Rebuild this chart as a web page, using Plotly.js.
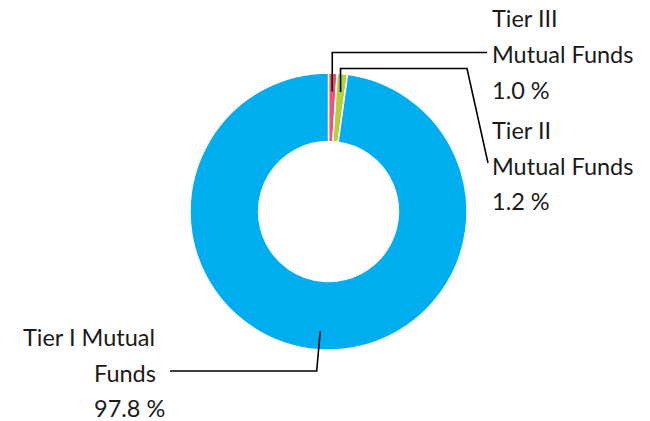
<!DOCTYPE html>
<html>
<head>
<meta charset="utf-8">
<script src="https://cdn.plot.ly/plotly-3.0.1.min.js"></script>
<style>html,body{margin:0;padding:0;background:#fff;}#chart{width:650px;height:421px;}</style>
</head>
<body>
<div id="chart"></div>
<script>
// Data (clockwise from 12 o'clock)
var labels = ['Tier III Mutual Funds', 'Tier II Mutual Funds', 'Tier I Mutual Funds'];
var values = [1.0, 1.2, 97.8];
var colors = ['#F0527F', '#B4D135', '#00AEEF'];
var valueLabels = ['1.0 %', '1.2 %', '97.8 %'];

var W = 650, H = 421;
var cx = 328.5, cy = 211.5, R = 138.5;
function px(x) { return x / W; }
function py(y) { return 1 - y / H; }

var total = values.reduce(function (a, b) { return a + b; }, 0);
var mids = [], cum = 0;
values.forEach(function (v) { mids.push((cum + v / 2) / total * 2 * Math.PI); cum += v; });
function pt(i, r) { return [cx + r * Math.sin(mids[i]), cy - r * Math.cos(mids[i])]; }

var rStart = 0.867 * R;
var shapes = [];
function path(points) {
  var d = points.map(function (p, k) { return (k ? 'L' : 'M') + px(p[0]) + ',' + py(p[1]); }).join(' ');
  shapes.push({type: 'path', xref: 'paper', yref: 'paper', path: d, line: {color: '#000', width: 1.6}});
}
// Leader lines (start at slice mid-angle)
var s0 = pt(0, rStart); path([s0, [s0[0], 52.5], [487, 52.5]]);
var s1 = pt(1, rStart); path([s1, [s1[0], 68.5], [467, 68.5], [488, 163]]);
var s2 = pt(2, rStart); path([s2, [s2[0] - 3.5, 371], [170, 371]]);

var font = {family: 'Lato, "Open Sans", sans-serif', size: 23.5, color: '#1a1a1a'};
var annotations = [];
function txt(t, x, y, anchor) {
  annotations.push({text: t, x: px(x), y: py(y), xref: 'paper', yref: 'paper', xanchor: anchor, yanchor: 'middle', showarrow: false, font: font});
}
var l0 = labels[0].replace(' Mutual', '|Mutual').split('|');
var l1 = labels[1].replace(' Mutual', '|Mutual').split('|');
var l2 = labels[2].replace(' Funds', '|Funds').split('|');
txt(l0[0], 490, 18, 'left'); txt(l0[1], 490, 54.5, 'left'); txt(valueLabels[0], 490, 90.5, 'left');
txt(l1[0], 490, 130, 'left'); txt(l1[1], 490, 166, 'left'); txt(valueLabels[1], 490, 201.5, 'left');
txt(l2[0], 157, 337, 'right'); txt(l2[1], 158, 372.5, 'right'); txt(valueLabels[2], 167, 408, 'right');

var trace = {
  type: 'pie', labels: labels, values: values, sort: false, direction: 'clockwise', rotation: 0,
  hole: 0.505, textinfo: 'none', hoverinfo: 'label+percent',
  marker: {colors: colors, line: {color: '#ffffff', width: 1.5}},
  domain: {x: [px(cx - R), px(cx + R)], y: [py(cy + R), py(cy - R)]}
};
var layout = {width: W, height: H, margin: {l: 0, r: 0, t: 0, b: 0}, showlegend: false,
  paper_bgcolor: '#fff', plot_bgcolor: '#fff', shapes: shapes, annotations: annotations};
Plotly.newPlot('chart', [trace], layout, {displayModeBar: false, staticPlot: true});
</script>
</body>
</html>
